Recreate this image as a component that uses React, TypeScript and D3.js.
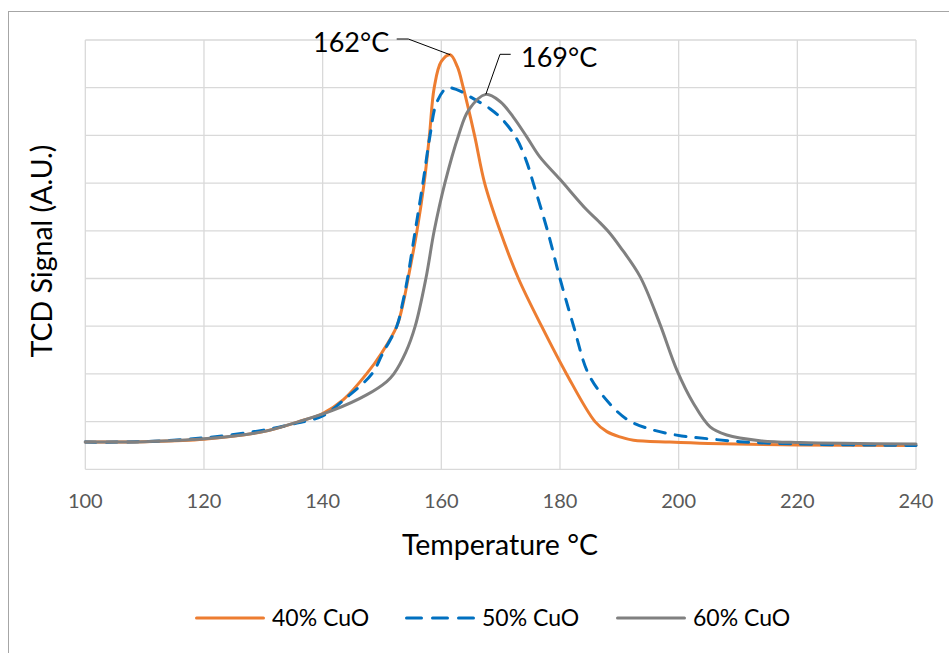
import React from "react";
import * as d3 from "d3";

// ---- data ----
const xTicks = [100, 120, 140, 160, 180, 200, 220, 240];
const yGrid = [0, 1, 2, 3, 4, 5, 6, 7, 8, 9];

const temp40 = [100, 110, 120, 130, 136, 140, 143.5, 147.4, 150, 152.5, 153.6, 154.4, 155.9, 157.1, 158, 158.8, 160, 161.5, 162.7, 163.7, 165.6, 167.3, 169.9, 173, 176.9, 181.1, 185.9, 187.9, 190.1, 192.4, 198.5, 205, 220, 240];
const sig40 = [0.57, 0.58, 0.63, 0.79, 1.0, 1.17, 1.46, 2.0, 2.45, 3.0, 3.5, 4.0, 5.0, 6.0, 7.0, 8.0, 8.55, 8.69, 8.44, 8.0, 7.0, 6.0, 5.0, 4.0, 3.0, 2.0, 1.0, 0.79, 0.68, 0.61, 0.57, 0.54, 0.51, 0.5];

const temp50 = [100, 110, 120, 130, 135, 140, 144, 148.3, 150, 152.5, 153.5, 154.3, 155.6, 156.9, 158.1, 159.2, 160.9, 162.6, 165.4, 168.2, 170.4, 172.7, 174.4, 175.5, 177.9, 180, 182.3, 184.8, 188.2, 191.5, 195.8, 200.5, 205, 210.3, 220, 240];
const sig50 = [0.57, 0.58, 0.66, 0.82, 0.95, 1.12, 1.5, 2.0, 2.4, 3.0, 3.5, 4.0, 5.0, 6.0, 7.0, 7.68, 7.99, 7.96, 7.77, 7.56, 7.32, 6.93, 6.44, 6.0, 5.0, 4.0, 3.0, 2.0, 1.4, 1.03, 0.82, 0.7, 0.64, 0.58, 0.53, 0.5];

const temp60 = [100, 110, 120, 130, 136, 141.8, 147.4, 150.8, 152, 154, 155.6, 157.4, 158.8, 160.6, 162.9, 164.6, 167.5, 169.9, 172.1, 174.4, 176.6, 180, 184.5, 186.5, 188.4, 190.1, 193.5, 196.8, 199.7, 202.5, 205.3, 208.1, 213.7, 220.5, 240];
const sig60 = [0.57, 0.58, 0.64, 0.79, 1.0, 1.24, 1.56, 1.84, 2.0, 2.45, 3.0, 4.0, 5.0, 6.0, 7.0, 7.53, 7.86, 7.71, 7.39, 6.97, 6.55, 6.08, 5.44, 5.2, 4.95, 4.67, 4.04, 3.06, 2.08, 1.38, 0.89, 0.72, 0.6, 0.56, 0.53];

const seriesNames = ["40% CuO", "50% CuO", "60% CuO"];
const seriesColors = ["#ED7D31", "#0070C0", "#808080"];

const FONT = "Lato, 'Noto Sans', sans-serif";

export default function App() {
  const x = d3.scaleLinear().domain([100, 240]).range([85.3, 916]);
  const y = d3.scaleLinear().domain([0, 9]).range([469.3, 40]);
  const line = d3
    .line<[number, number]>()
    .x((d) => x(d[0]))
    .y((d) => y(d[1]))
    .curve(d3.curveCatmullRom.alpha(0.5));

  const series = [
    temp40.map((t, i) => [t, sig40[i]] as [number, number]),
    temp50.map((t, i) => [t, sig50[i]] as [number, number]),
    temp60.map((t, i) => [t, sig60[i]] as [number, number]),
  ];
  const dashes = [undefined, "11 10", undefined];

  const legendLineX = [195, 405, 616];
  const legendTextX = [272, 482, 693];

  return (
    <svg
      width={949}
      height={653}
      style={{ position: "absolute", left: 0, top: 0, background: "#fff" }}
    >
      <rect x={8.5} y={11.5} width={1000} height={700} fill="#fff" stroke="#a6a6a6" strokeWidth={1} />
      {/* gridlines */}
      {yGrid.map((v) => (
        <line key={"h" + v} x1={x(100)} x2={x(240)} y1={y(v)} y2={y(v)} stroke="#d9d9d9" strokeWidth={1.3} />
      ))}
      {xTicks.map((t) => (
        <line key={"v" + t} x1={x(t)} x2={x(t)} y1={y(0)} y2={y(9)} stroke="#d9d9d9" strokeWidth={1.3} />
      ))}
      {/* tick labels */}
      {xTicks.map((t) => (
        <text key={"t" + t} x={x(t)} y={508} textAnchor="middle" fontFamily={FONT} fontSize={20} fill="#595959">
          {t}
        </text>
      ))}
      {/* series */}
      {series.map((s, i) => (
        <path
          key={i}
          d={line(s) || ""}
          fill="none"
          stroke={seriesColors[i]}
          strokeWidth={3}
          strokeDasharray={dashes[i]}
          strokeLinecap="round"
          strokeLinejoin="round"
        />
      ))}
      {/* annotations */}
      <polyline points={`396.7,39 408.3,39 ${x(161.5)},${y(8.69)}`} fill="none" stroke="#000" strokeWidth={1} />
      <text x={313} y={52} fontFamily={FONT} fontSize={27} fill="#000">162°C</text>
      <polyline points={`510.7,54.3 500,54.3 ${x(167.5)},${y(7.86)}`} fill="none" stroke="#000" strokeWidth={1} />
      <text x={521} y={66.7} fontFamily={FONT} fontSize={27} fill="#000">169°C</text>
      {/* axis titles */}
      <text x={500} y={555} textAnchor="middle" fontFamily={FONT} fontSize={28.5} fill="#000">
        Temperature °C
      </text>
      <text transform="translate(52,251) rotate(-90)" textAnchor="middle" fontFamily={FONT} fontSize={28.5} fill="#000">
        TCD Signal (A.U.)
      </text>
      {/* legend */}
      {seriesNames.map((n, i) => (
        <g key={n}>
          <line
            x1={legendLineX[i] + 1.5}
            x2={legendLineX[i] + 68.5}
            y1={618}
            y2={618}
            stroke={seriesColors[i]}
            strokeWidth={3}
            strokeDasharray={i === 1 ? "15 11" : undefined}
            strokeLinecap="round"
          />
          <text x={legendTextX[i]} y={626} fontFamily={FONT} fontSize={23} fill="#000">
            {n}
          </text>
        </g>
      ))}
    </svg>
  );
}
